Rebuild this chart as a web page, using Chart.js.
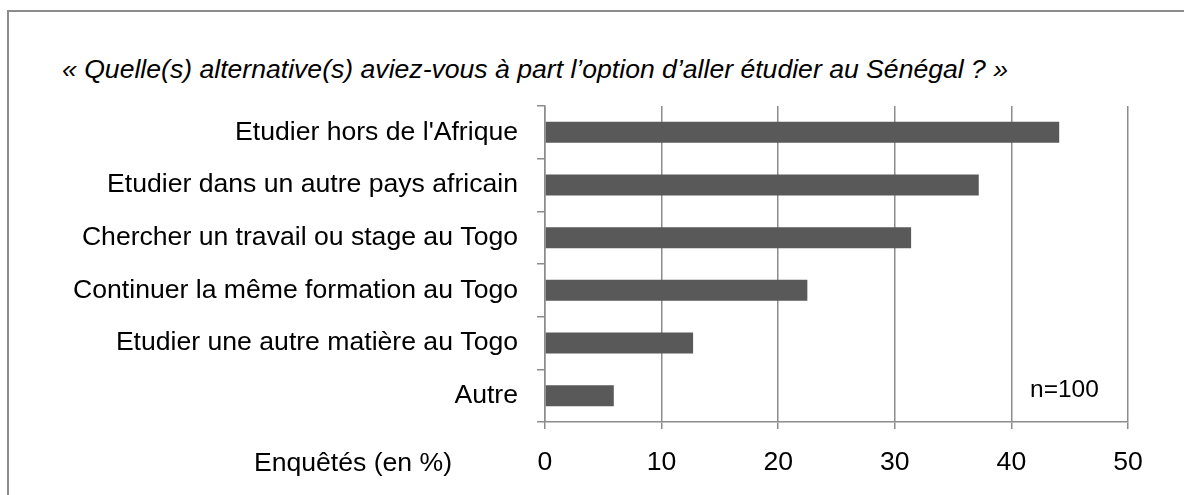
<!DOCTYPE html>
<html lang="fr">
<head>
<meta charset="utf-8">
<script src="https://cdn.jsdelivr.net/npm/chart.js@4.4.0/dist/chart.umd.min.js"></script>
<style>
  html, body { margin: 0; padding: 0; background: #fff; overflow: hidden; }
  #frame {
    position: absolute; left: 7px; top: 10px; width: 1300px; height: 600px;
    border: 2px solid #8c8c8c;
  }
  #title {
    position: absolute; left: 62px; top: 54px;
    font: italic 26.6px "Liberation Sans", Arial, sans-serif; color: #000;
    white-space: nowrap;
  }
  #wrap { position: absolute; left: 0; top: 0; width: 1184px; height: 495px; }
</style>
</head>
<body>
<div id="frame"></div>
<div id="title">« Quelle(s) alternative(s) aviez-vous à part l’option d’aller étudier au Sénégal ? »</div>
<div id="wrap"><canvas id="chart"></canvas></div>
<script>
// Data
const categories = [
  "Etudier hors de l'Afrique",
  "Etudier dans un autre pays africain",
  "Chercher un travail ou stage au Togo",
  "Continuer la même formation au Togo",
  "Etudier une autre matière au Togo",
  "Autre",
];
const values = [44.1, 37.2, 31.4, 22.5, 12.7, 5.9];
const xTicks = [0, 10, 20, 30, 40, 50];
const axisLabel = "Enquêtés (en %)";
const sampleNote = "n=100";

const FONT = '"Liberation Sans", Arial, sans-serif';
const SIZE = 26.6;
const GRID = "#8c8c8c";

// Draws the axis caption next to the tick labels and the sample size note
const notesPlugin = {
  id: "notes",
  afterDraw(chart) {
    const ctx = chart.ctx;
    const x = chart.scales.x;
    const area = chart.chartArea;
    ctx.save();
    ctx.fillStyle = "#000";
    ctx.font = SIZE + "px " + FONT;
    ctx.textBaseline = "middle";
    ctx.textAlign = "right";
    ctx.fillText(axisLabel, 452, area.bottom + 42);
    ctx.font = "24.5px " + FONT;
    ctx.textAlign = "left";
    ctx.fillText(sampleNote, x.getPixelForValue(41.6), area.bottom - 32);
    ctx.restore();
  },
};

new Chart(document.getElementById("chart"), {
  type: "bar",
  data: {
    labels: categories,
    datasets: [
      {
        data: values,
        backgroundColor: "#595959",
        borderWidth: 0,
        barPercentage: 0.4,
        categoryPercentage: 1,
      },
    ],
  },
  options: {
    indexAxis: "y",
    responsive: true,
    maintainAspectRatio: false,
    animation: false,
    layout: { padding: { left: 0, right: 56, top: 106, bottom: 0 } },
    plugins: {
      legend: { display: false },
      tooltip: { enabled: false },
      title: { display: false },
    },
    scales: {
      x: {
        min: 0,
        max: 50,
        afterBuildTicks: (scale) => {
          scale.ticks = xTicks.map((v) => ({ value: v }));
        },
        afterFit: (scale) => {
          scale.height = 73;
        },
        ticks: {
          color: "#000",
          font: { family: FONT, size: SIZE },
          padding: 18,
          maxRotation: 0,
        },
        grid: {
          color: GRID,
          lineWidth: 1.5,
          tickLength: 7,
        },
        border: { color: GRID, width: 1.5 },
      },
      y: {
        afterFit: (scale) => {
          scale.width = 545;
        },
        ticks: {
          color: "#000",
          font: { family: FONT, size: SIZE },
          padding: 19,
        },
        grid: {
          offset: true,
          drawOnChartArea: false,
          color: GRID,
          lineWidth: 1.5,
          tickLength: 8,
        },
        border: { color: GRID, width: 1.5 },
      },
    },
  },
  plugins: [notesPlugin],
});
</script>
</body>
</html>
